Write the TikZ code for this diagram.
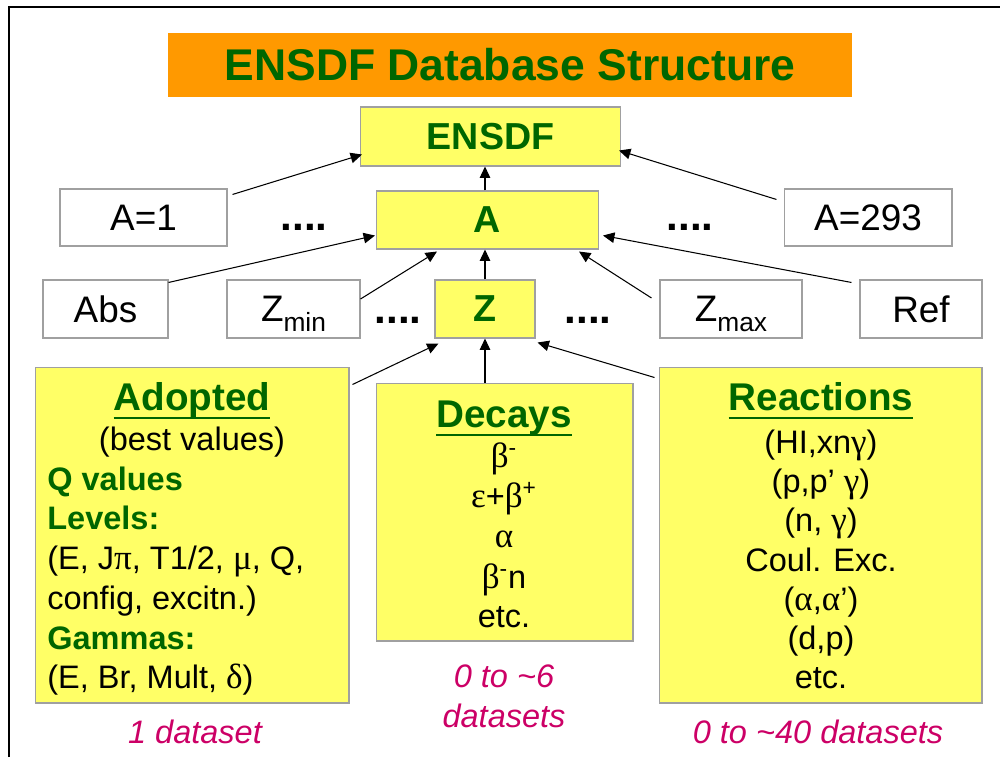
\documentclass[tikz,border=0pt]{standalone}
\usepackage{fontspec}
\setmainfont{Liberation Sans}
\newfontfamily\grk{Liberation Serif}[Scale=1.08]
\usetikzlibrary{arrows.meta,positioning}

\definecolor{ensgreen}{HTML}{006600}
\definecolor{ensyellow}{HTML}{FFFF66}
\definecolor{ensorange}{HTML}{FF9900}
\definecolor{ensmagenta}{HTML}{CC0066}
\definecolor{ensgray}{HTML}{A0A0A0}

\newcommand{\headul}[1]{\setbox0\hbox{#1}\rlap{\rule[-5.4pt]{\wd0}{1.7pt}}\box0}
\newcommand{\zsub}[1]{\raisebox{-5.5pt}{\fontsize{15}{15}\selectfont #1}}
\newcommand{\grl}[1]{{\grk #1}}

\tikzset{
  yellowbox/.style={draw=ensgray, fill=ensyellow, line width=0.6pt, inner sep=0pt},
  whitebox/.style={draw=ensgray, fill=white, line width=0.6pt, inner sep=0pt,
    text depth=0pt, font=\fontsize{21}{25}\selectfont},
  keyword/.style={text=ensgreen, font=\fontsize{21.4}{25}\selectfont\bfseries, text depth=0pt},
  heading/.style={text=ensgreen, font=\fontsize{22}{26}\selectfont\bfseries, inner sep=0pt},
  body/.style={font=\fontsize{18.5}{22.5}\selectfont, inner sep=0pt},
  tally/.style={text=ensmagenta, font=\fontsize{18.5}{22.5}\selectfont\itshape, inner sep=0pt},
  ellip/.style={font=\fontsize{24}{28}\selectfont\bfseries, inner sep=0pt},
  link/.style={-{Triangle[length=6.5pt,width=6pt]}, line width=0.6pt}
}

\begin{document}
\begin{tikzpicture}[x=0.02cm, y=-0.02cm]
  \useasboundingbox (0,0) rectangle (1000,757);
  % slide frame
  \draw[line width=1.4pt] (9,757) -- (9,7) -- (1000,7);

  % title
  \node[fill=ensorange, minimum width=13.68cm, minimum height=1.28cm, inner sep=0pt,
    text=ensgreen, font=\fontsize{25.3}{30}\selectfont\bfseries] (title) at (510,65)
    {ENSDF Database Structure};

  % hierarchy
  \node[yellowbox, keyword, minimum width=5.2cm, minimum height=1.18cm] (ensdf) at (490.5,136.5) {ENSDF};
  \node[yellowbox, keyword, minimum width=4.44cm, minimum height=1.16cm] (a) at (487.5,220) {A};
  \node[yellowbox, keyword, minimum width=2cm, minimum height=1.16cm] (z) at (485,309) {Z};

  \node[whitebox, minimum width=3.34cm, minimum height=1.14cm] (a1) at (143.5,217.5) {A=1};
  \node[whitebox, minimum width=3.36cm, minimum height=1.14cm] (a293) at (868,217.5) {A=293};
  \node[whitebox, minimum width=2.5cm, minimum height=1.16cm] (abs) at (105.5,309) {Abs};
  \node[whitebox, minimum width=2.66cm, minimum height=1.16cm] (zmin) at (293.5,309) {Z\zsub{min}};
  \node[whitebox, minimum width=2.84cm, minimum height=1.16cm] (zmax) at (731,309) {Z\zsub{max}};
  \node[whitebox, minimum width=2.44cm, minimum height=1.16cm] (ref) at (921,309) {Ref};

  \node[ellip, anchor=base] (adotsl) at (304,230) {....};
  \node[ellip, anchor=base] (adotsr) at (690,230) {....};
  \node[ellip, anchor=base] (zdotsl) at (398,323) {....};
  \node[ellip, anchor=base] (zdotsr) at (588,323) {....};

  % dataset boxes
  \node[yellowbox, minimum width=6.28cm, minimum height=6.72cm] (adopted) at (192,535) {};
  \node[yellowbox, minimum width=5.14cm, minimum height=5.16cm] (decays) at (504.5,512) {};
  \node[yellowbox, minimum width=6.46cm, minimum height=6.72cm] (reactions) at (820.5,535) {};

  % adopted
  \node[heading, anchor=base] (adhead) at (192,410) {\headul{Adopted}};
  \node[body, anchor=base] (adbest) at (192,450) {(best values)};
  \foreach \y/\txt [count=\i] in {490/{\textbf{\color{ensgreen}Q values}},
      529/{\textbf{\color{ensgreen}Levels:}},
      569/{(E, J\grl{π}, T1/2, \grl{μ}, Q,},
      609/{config, excitn.)},
      649/{\textbf{\color{ensgreen}Gammas:}},
      688/{(E, Br, Mult, \grl{δ})}}
    \node[body, anchor=base west] (adl\i) at (47,\y) {\txt};
  \node[tally, anchor=base] (adcount) at (195,743) {1 dataset};

  % decays
  \node[heading, anchor=base] (dehead) at (504,427) {\headul{Decays}};
  \foreach \y/\txt [count=\i] in {467/{\grl{β}\textsuperscript{-}},
      507/{\grl{ε}+\grl{β}\textsuperscript{+}},
      547/{\grl{α}},
      588/{\grl{β}\textsuperscript{-}n},
      627/{etc.}}
    \node[body, anchor=base] (del\i) at (504,\y) {\txt};
  \node[tally, anchor=base] (decount) at (504,687) {0 to \textasciitilde6};
  \node[tally, anchor=base] (decount2) at (504,727) {datasets};

  % reactions
  \node[heading, anchor=base] (rehead) at (821,410) {\headul{Reactions}};
  \foreach \y/\txt [count=\i] in {453/{(HI,xn\grl{γ})},
      492/{(p,p’ \grl{γ})},
      531/{(n, \grl{γ})},
      571/{Coul. Exc.},
      610/{(\grl{α},\grl{α}’)},
      649/{(d,p)},
      688/{etc.}}
    \node[body, anchor=base] (rel\i) at (821,\y) {\txt};
  \node[tally, anchor=base] (recount) at (818,743) {0 to \textasciitilde40 datasets};

  % links
  \draw[link] ([shift={(5,6)}]a1.north east) -- ([shift={(2,-12)}]ensdf.south west);
  \draw[link] ([shift={(-7,11)}]a293.north west) -- ([shift={(-2,-16)}]ensdf.south east);
  \draw[link] (a.north -| z.north) -- (z.north |- ensdf.south);
  \draw[link] ([shift={(0,3)}]abs.north east) -- ([shift={(-1,-14)}]a.south west);
  \draw[link] ([shift={(0,-10)}]zmin.east) -- ([shift={(61,2)}]a.south west);
  \draw[link] (z.north) -- (z.north |- a.south);
  \draw[link] ([shift={(-8,-11)}]zmax.west) -- ([shift={(-20,2)}]a.south east);
  \draw[link] ([shift={(-8,3)}]ref.north west) -- ([shift={(4,-14)}]a.south east);
  \draw[link] ([shift={(3,18)}]adopted.north east) -- ([shift={(4,5)}]z.south west);
  \draw[link] (decays.north -| z.south) -- (z.south);
  \draw[link] ([shift={(-4,11)}]reactions.north west) -- ([shift={(2,4)}]z.south east);
\end{tikzpicture}
\end{document}
